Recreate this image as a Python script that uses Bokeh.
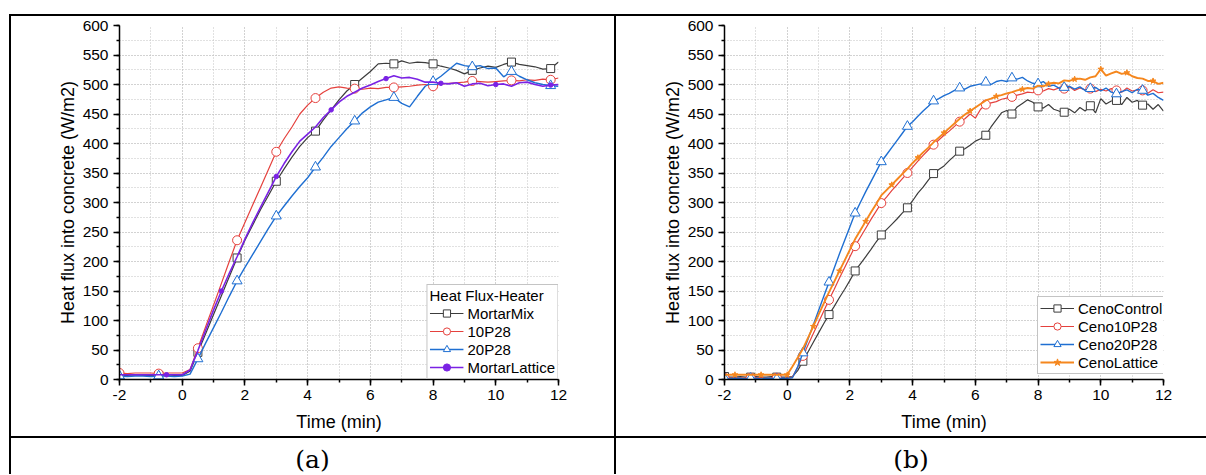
import numpy as np
from bokeh.plotting import figure
from bokeh.models import (Range1d, SingleIntervalTicker, Legend, LegendItem, Div,
                          ColumnDataSource, CDSView, IndexFilter, CustomJSTickFormatter)
from bokeh.layouts import row, column
from bokeh.embed import file_html
from bokeh.resources import INLINE

# ---------------- data: panel (a), sampled every 0.25 min ----------------
time_a = np.linspace(-2, 12, 57)

mortar_mix = [7, 7, 8, 7, 7, 7, 8, 7, 7,
              14, 46, 78, 110, 142, 174, 206, 236,
              262, 288, 312, 336, 357, 377, 395, 410,
              421, 440, 457, 474, 489, 500, 511, 522,
              535, 536, 535, 540, 536, 538, 537, 535,
              531, 528, 524, 518, 524, 528, 531, 529,
              534, 538, 534, 532, 530, 526, 527, 538]

p10_28 = [11, 10, 11, 11, 11, 10, 11, 11, 11,
          17, 53, 90, 126, 163, 200, 236, 266,
          296, 326, 356, 386, 408, 428, 450, 465,
          477, 487, 494, 496, 494, 493, 492, 494,
          493, 495, 495, 496, 497, 499, 500, 497,
          501, 502, 503, 504, 506, 505, 504, 505,
          506, 507, 506, 508, 507, 509, 508, 511]

p20_28 = [6, 5, 6, 6, 5, 6, 6, 5, 6,
          9, 35, 62, 88, 114, 141, 167, 190,
          212, 234, 256, 277, 294, 311, 327, 342,
          360, 377, 395, 410, 425, 438, 452, 462,
          470, 474, 478, 468, 462, 480, 497, 505,
          514, 525, 536, 532, 530, 532, 527, 528,
          513, 522, 514, 508, 503, 500, 498, 497]

mortar_lattice = [8, 8, 8, 8, 8, 8, 8, 8, 8,
                  16, 49, 84, 118, 150, 180, 208, 238,
                  266, 292, 318, 344, 366, 386, 404, 416,
                  428, 444, 457, 470, 480, 487, 494, 499,
                  505, 510, 515, 511, 512, 509, 504, 504,
                  502, 501, 503, 497, 501, 502, 498, 500,
                  501, 497, 503, 504, 500, 497, 499, 500]

# ---------------- data: panel (b), sampled every 1/6 min ----------------
time_b = np.linspace(-2, 12, 85)

ceno_control = [5, 4, 4, 5, 4, 4, 5, 4, 4, 5, 4, 4, 4,
                5, 15, 31, 47, 63, 79, 95, 110, 124, 139, 153, 168,
                184, 196, 208, 220, 233, 245, 254, 263, 272, 282, 291, 303,
                316, 326, 338, 349, 356, 362, 371, 379, 387, 391, 397, 404,
                408, 414, 428, 440, 452, 456, 450, 462, 468, 474, 470, 462,
                460, 466, 458, 455, 453, 458, 452, 461, 455, 464, 452, 476,
                467, 472, 473, 466, 478, 470, 473, 465, 467, 458, 466, 455]

ceno10_p28 = [3, 2, 3, 3, 2, 3, 3, 3, 2, 3, 3, 2, 3,
              4, 21, 40, 59, 78, 97, 116, 135, 153, 172, 190, 208,
              226, 241, 256, 271, 285, 299, 309, 320, 330, 340, 350, 360,
              370, 380, 389, 398, 406, 414, 421, 429, 437, 442, 450, 443,
              458, 466, 469, 471, 475, 477, 479, 482, 484, 487, 486, 490,
              489, 493, 491, 494, 493, 496, 490, 494, 491, 493, 488, 492,
              489, 493, 490, 487, 494, 489, 491, 490, 485, 491, 486, 487]

ceno20_p28 = [2, 1, 2, 2, 1, 2, 2, 1, 2, 2, 1, 2, 2,
              3, 21, 45, 69, 93, 117, 141, 165, 189, 213, 236, 259,
              282, 300, 318, 335, 352, 369, 381, 393, 405, 417, 429, 437,
              446, 455, 463, 472, 476, 481, 485, 490, 494, 492, 497, 499,
              501, 504, 500, 505, 507, 505, 511, 509, 512, 506, 502, 501,
              505, 497, 499, 494, 495, 497, 492, 496, 490, 493, 495, 489,
              494, 487, 484, 488, 491, 486, 492, 490, 482, 485, 478, 473]

ceno_lattice = [8, 8, 8, 8, 8, 8, 8, 8, 8, 8, 8, 8, 8,
                22, 37, 52, 71, 90, 110, 129, 148, 166, 184, 202, 220,
                238, 253, 268, 283, 297, 312, 321, 330, 339, 348, 357, 367,
                376, 385, 393, 402, 410, 418, 426, 434, 442, 449, 455, 461,
                467, 473, 476, 480, 482, 485, 487, 490, 492, 494, 493, 498,
                497, 501, 503, 502, 507, 506, 509, 510, 508, 512, 514, 526,
                515, 519, 522, 518, 520, 514, 511, 510, 506, 506, 501, 503]

series_a = [
    ("MortarMix", mortar_mix, "#3c3c3c", "square", 8, 1.2, 0, 5, "white"),
    ("10P28", p10_28, "#e5413d", "circle", 9, 1.2, 0, 5, "white"),
    ("20P28", p20_28, "#1f6fd2", "triangle", 10, 1.4, 0, 5, "white"),
    ("MortarLattice", mortar_lattice, "#7a22e4", "circle", 4.5, 1.6, 6, 7, "#7a22e4"),
]
series_b = [
    ("CenoControl", ceno_control, "#3c3c3c", "square", 8, 1.2, 0, 5, "white"),
    ("Ceno10P28", ceno10_p28, "#e5413d", "circle", 9, 1.2, 0, 5, "white"),
    ("Ceno20P28", ceno20_p28, "#1f6fd2", "triangle", 10, 1.4, 0, 5, "white"),
    ("CenoLattice", ceno_lattice, "#f5871e", "star", 6, 1.9, 2, 5, "#f5871e"),
]

FONT = "Liberation Sans"


def make_panel(t, series, legend_title, width, right_border, legend_loc):
    p = figure(width=width, height=420, x_range=Range1d(-2, 12), y_range=Range1d(0, 600),
               output_backend="svg", toolbar_location=None,
               min_border_left=108, min_border_right=right_border,
               min_border_top=9, min_border_bottom=57)
    p.outline_line_color = None
    p.background_fill_color = "white"
    p.border_fill_color = "white"

    p.xaxis.ticker = SingleIntervalTicker(interval=2, num_minor_ticks=2)
    p.yaxis.ticker = SingleIntervalTicker(interval=50, num_minor_ticks=2)
    p.xaxis.formatter = CustomJSTickFormatter(code="return String(tick);")
    for g in (p.xgrid, p.ygrid):
        g.grid_line_color = "#c2c2c2"
        g.grid_line_dash = "1 2"
        g.grid_line_width = 1
        g.minor_grid_line_color = "#c2c2c2"
        g.minor_grid_line_dash = "1 2"
        g.minor_grid_line_width = 1

    for ax in (p.xaxis, p.yaxis):
        ax.axis_line_color = "black"
        ax.axis_line_width = 1.5
        ax.major_tick_line_color = "black"
        ax.major_tick_line_width = 1.5
        ax.major_tick_out = 6
        ax.major_tick_in = 0
        ax.minor_tick_line_color = "black"
        ax.minor_tick_line_width = 1.5
        ax.minor_tick_out = 3
        ax.minor_tick_in = 0
        ax.major_label_text_font = FONT
        ax.major_label_text_font_size = "15.5px"
        ax.major_label_text_color = "black"
        ax.axis_label_text_font = FONT
        ax.axis_label_text_font_size = "18px"
        ax.axis_label_text_font_style = "normal"
        ax.axis_label_text_color = "black"
    p.xaxis.axis_label = "Time (min)"
    p.yaxis.axis_label = "Heat flux into concrete (W/m2)"
    p.xaxis.major_label_standoff = 4
    p.yaxis.major_label_standoff = 5
    p.xaxis.axis_label_standoff = 9
    p.yaxis.axis_label_standoff = 2

    items = []
    for name, y, color, marker, msize, lw, start, step, fill in series:
        src = ColumnDataSource(dict(x=list(t), y=y))
        ln = p.line("x", "y", source=src, line_color=color, line_width=lw)
        view = CDSView(filter=IndexFilter(indices=list(range(start, len(t), step))))
        mk = p.scatter("x", "y", source=src, view=view, marker=marker, size=msize,
                       line_color=color, fill_color=fill, line_width=1)
        items.append(LegendItem(label=name, renderers=[ln, mk]))

    legend = Legend(items=items, location=legend_loc, margin=0, padding=2, spacing=0,
                    label_standoff=4, glyph_width=34, glyph_height=18, label_height=18,
                    label_text_font=FONT, label_text_font_size="15px", label_text_color="black",
                    border_line_color="#8a8a8a", border_line_width=1,
                    background_fill_color="white", background_fill_alpha=1.0)
    if legend_title:
        legend.title = legend_title
        legend.title_text_font = FONT
        legend.title_text_font_size = "15px"
        legend.title_text_font_style = "normal"
        legend.title_text_color = "black"
        legend.title_standoff = 0
    p.add_layout(legend)
    return p


pa = make_panel(time_a, series_a, "Heat Flux-Heater", 603, 56, "bottom_right")
pb = make_panel(time_b, series_b, None, 590, 43, (313, 5))


def blk(w, h):
    return Div(text="", width=w, height=h, margin=0, styles={"background-color": "black"})


def blank(w, h):
    return Div(text="", width=w, height=h, margin=0)


CAP_H = 36


def caption(txt, w):
    html = ('<div style="font-family: \'DejaVu Serif\', serif; font-size: 25px; '
            'text-align: center; line-height: 44px; height: %dpx; overflow: hidden; '
            'width: %dpx;">%s</div>' % (CAP_H, w, txt))
    return Div(text=html, width=w, height=CAP_H, margin=0)


layout = column(
    blank(1206, 14),
    row(blank(9, 2), blk(1197, 2), spacing=0),
    row(blank(9, 420), blk(2, 420), pa, blk(2, 420), pb, spacing=0),
    row(blank(9, 2), blk(1197, 2), spacing=0),
    row(blank(9, CAP_H), blk(2, CAP_H), caption("(a)", 603), blk(2, CAP_H),
        caption("(b)", 590), spacing=0),
    spacing=0,
)

open("out.html", "w").write(file_html(layout, INLINE))
